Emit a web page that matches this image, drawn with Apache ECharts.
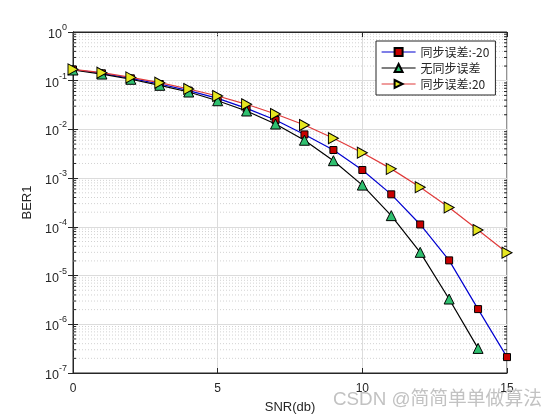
<!DOCTYPE html>
<html><head><meta charset="utf-8">
<script src="https://cdn.jsdelivr.net/npm/echarts@6/dist/echarts.min.js"></script>
<style>html,body{margin:0;padding:0;background:#fff}#c{width:560px;height:420px}</style>
</head><body><div id="c"></div>
<script>
var snr = [0,1,2,3,4,5,6,7,8,9,10,11,12,13,14,15];
var berM20 = [0.170,0.142,0.112,0.0856,0.0626,0.0435,0.0271,0.0156,0.0079,0.00378,0.00147,4.65e-4,1.12e-4,2.05e-5,2.05e-6,2.12e-7];
var berNone = [0.166,0.137,0.107,0.0805,0.0586,0.0388,0.0239,0.0129,0.00600,0.00228,7.2e-4,1.7e-4,3.0e-5,3.3e-6,3.2e-7];
var berP20 = [0.171,0.146,0.117,0.091,0.0676,0.0485,0.0328,0.0207,0.0123,0.0066,0.00333,0.00155,6.5e-4,2.5e-4,8.6e-5,2.94e-5];
var names = ['同步误差:-20','无同步误差','同步误差:20'];

function pairs(ys){ return ys.map(function(v,i){ return [snr[i], v]; }); }
var minorVals = [];
for (var k=-7;k<0;k++){ for (var d=2;d<=9;d++){ minorVals.push(d*Math.pow(10,k)); } }

var font = 'Liberation Sans, Arial, sans-serif';
var ink = '#262626';
var chart = echarts.init(document.getElementById('c'), null, {renderer:'canvas'});
var yAxisBase = {
  type:'log', logBase:10, min:1e-7, max:1,
  axisLine:{show:true, lineStyle:{color:ink, width:1}},
  axisTick:{show:true, inside:true, length:5, lineStyle:{color:ink}},
  splitLine:{show:false}
};
chart.setOption({
  animation:false,
  grid:{left:73, right:53, top:32, bottom:47, show:true, borderColor:ink, borderWidth:1},
  legend:{
    orient:'vertical', left:376, top:41, padding:[5,6,5,5], itemGap:4,
    itemWidth:34, itemHeight:10,
    backgroundColor:'#fff', borderColor:ink, borderWidth:1, borderRadius:0,
    lineStyle:{type:'solid', width:1.2},
    textStyle:{fontFamily:'Noto Sans CJK SC, sans-serif', fontSize:12, color:ink},
    data:names
  },
  xAxis:[{
    type:'value', min:0, max:15, interval:5,
    name:'SNR(db)', nameLocation:'middle', nameGap:28,
    nameTextStyle:{fontFamily:font, fontSize:13, color:ink},
    axisLine:{show:true, onZero:false, lineStyle:{color:ink}},
    axisTick:{inside:true, length:5, lineStyle:{color:ink}},
    axisLabel:{fontFamily:font, fontSize:12, color:ink, margin:10},
    splitLine:{show:true, lineStyle:{color:'#dcdcdc', width:1}}
  },{
    type:'value', min:0, max:15, interval:5, position:'top',
    axisLine:{show:true, lineStyle:{color:ink}},
    axisTick:{inside:true, length:5, lineStyle:{color:ink}},
    axisLabel:{show:false}, splitLine:{show:false}
  }],
  yAxis:[Object.assign({}, yAxisBase, {
    name:'BER1', nameLocation:'middle', nameGap:33, nameRotate:90,
    nameTextStyle:{fontFamily:font, fontSize:13, color:ink},
    splitLine:{show:true, lineStyle:{color:'#dcdcdc', width:1}},
    axisLabel:{
      margin:6,
      formatter:function(v){ var e=Math.round(Math.log10(v)); return '{b|10}{s|'+e+'}'; },
      rich:{
        b:{fontFamily:font, fontSize:12.5, color:ink, lineHeight:18, verticalAlign:'bottom', padding:[0,0,0,0]},
        s:{fontFamily:font, fontSize:9, color:ink, lineHeight:18, verticalAlign:'top', padding:[0,0,7,0]}
      }
    }
  }), Object.assign({}, yAxisBase, {position:'right', axisLabel:{show:false}})],
  graphic:[{
    type:'text', left:333, top:390, z:100,
    style:{text:'CSDN @简简单单做算法', font:'18.8px Liberation Sans, Noto Sans CJK SC, sans-serif', fill:'#c2c2c2'}
  }],
  series:[
    {
      name:'minor', type:'custom', silent:true, z:1,
      data:minorVals.map(function(v){ return [0, v]; }),
      renderItem:function(params, api){
        var a = api.coord([0, api.value(1)]);
        var b = api.coord([15, api.value(1)]);
        var tick = {stroke:ink, lineWidth:1};
        return {type:'group', children:[
          {type:'line', shape:{x1:a[0], y1:a[1], x2:b[0], y2:b[1]}, style:{stroke:'#d2d2d2', lineWidth:1, lineDash:[1,2]}},
          {type:'line', shape:{x1:a[0], y1:a[1], x2:a[0]+3, y2:a[1]}, style:tick},
          {type:'line', shape:{x1:b[0], y1:b[1], x2:b[0]-3, y2:b[1]}, style:tick}
        ]};
      }
    },
    {
      name:names[0], type:'line', data:pairs(berM20), z:3,
      lineStyle:{color:'#0000d0', width:1.2, type:'solid'}, itemStyle:{color:'#c80000', borderColor:'#000', borderWidth:1},
      symbol:'rect', symbolSize:7, showAllSymbol:true
    },
    {
      name:names[1], type:'line', data:pairs(berNone), z:4,
      lineStyle:{color:'#000000', width:1.2, type:'solid'}, itemStyle:{color:'#2fbf6f', borderColor:'#000', borderWidth:1},
      symbol:'triangle', symbolSize:10, showAllSymbol:true
    },
    {
      name:names[2], type:'line', data:pairs(berP20), z:5,
      lineStyle:{color:'#e03a3a', width:1.2, type:'solid'}, itemStyle:{color:'#e6e620', borderColor:'#000', borderWidth:1},
      symbol:'path://M0,0 L10,5 L0,10 Z', symbolSize:[10,11], showAllSymbol:true
    }
  ]
});
</script></body></html>
